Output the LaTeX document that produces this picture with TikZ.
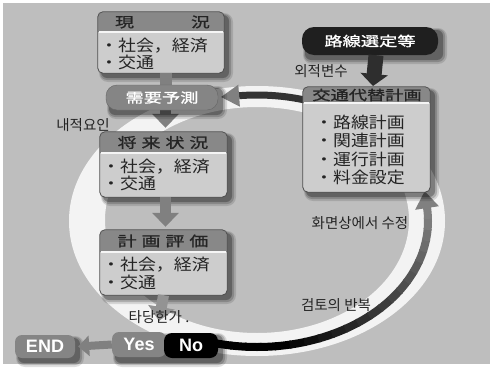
\documentclass[tikz,border=0pt]{standalone}
\usepackage{fontspec}
\setmainfont{Liberation Sans}
\newfontfamily\jpbody[FakeStretch=1.12]{Noto Sans CJK JP}
\newfontfamily\jphead[FakeStretch=1.35,FakeBold=1.2]{Noto Sans CJK JP}
\newfontfamily\krfont{Noto Sans CJK KR}
\usetikzlibrary{arrows.meta,fit,calc}
\definecolor{bg}{HTML}{BEBEBE}
\definecolor{hdr}{HTML}{888888}
\definecolor{bodyc}{HTML}{CDCDCD}
\definecolor{edge}{HTML}{505050}
\definecolor{pillc}{HTML}{858585}
\definecolor{ink}{HTML}{242424}
\definecolor{stripe}{HTML}{333333}
\definecolor{arrowg}{HTML}{808080}
\definecolor{ringc}{HTML}{F3F3F3}
\newcommand\softshadow[4]{%
  \fill[black,opacity=.12,rounded corners=9pt] (#1+1,#2+1) rectangle (#3+9,#4+9);
  \fill[black,opacity=.18,rounded corners=7pt] (#1+2,#2+2) rectangle (#3+7,#4+7);
  \fill[black,opacity=.28,rounded corners=6pt] (#1+3,#2+3) rectangle (#3+5,#4+5);}
\newcommand\planbox[6]{% name, x1, y1, x2, y2, header bottom
  \softshadow{#2}{#3}{#4}{#5}
  \node[fit={(#2,#3) (#4,#5)}, inner sep=0pt, fill=bodyc, rounded corners=5pt] (#1) {};
  \begin{scope}
    \clip[rounded corners=5pt] (#2,#3) rectangle (#4,#5);
    \fill[hdr] (#2,#3) rectangle (#4,#6);
  \end{scope}
  \draw[white!80!bodyc, line width=1.4pt] (#2+1,#6) -- (#4-1,#6);
  \draw[edge, line width=0.8pt, rounded corners=5pt] (#1.north west) rectangle (#1.south east);}
\begin{document}
\begin{tikzpicture}[x=1pt,y=-1pt,
  hdrtxt/.style={inner sep=0pt, text=ink, font=\jphead\fontsize{14}{14}\selectfont},
  bodytxt/.style={inner sep=0pt, anchor=west, text=ink, font=\jpbody\fontsize{16}{16}\selectfont},
  krlab/.style={inner sep=0pt, text=ink, font=\krfont\fontsize{14.5}{15}\selectfont},
  pilltxt/.style={inner sep=0pt, text=white, font=\jphead\fontsize{13.5}{13.5}\selectfont},
  engtxt/.style={inner sep=0pt, text=white, font=\bfseries\fontsize{18}{18}\selectfont},
  flow/.style={draw=arrowg, line width=11pt, -{Triangle[width=26pt,length=14pt]}},
  flowshaft/.style={draw=arrowg, line width=12pt},
  darkflow/.style={draw=black!82, line width=15pt, -{Triangle[width=27pt,length=12pt]}},
  smallflow/.style={draw=arrowg, line width=8pt, -{Triangle[width=20pt,length=11pt]}}]
\useasboundingbox (0,0) rectangle (490,372);
\fill[bg] (3,3) rectangle (490,364);
% review loop (white ring)
\fill[ringc, even odd rule] (257,221) ellipse [x radius=188, y radius=135]
                            (257,220) ellipse [x radius=152, y radius=113];
% stripe: No -> bottom -> right side
\foreach \i in {0,...,21}{
  \pgfmathsetmacro\ta{104-5*\i}
  \pgfmathsetmacro\tb{\ta-5.6}
  \pgfmathtruncatemacro\pc{min(100,max(0,(\i-4)*6))}
  \draw[line width=8pt, color=arrowg!\pc!black] plot[domain=\tb:\ta, samples=8] ({257+171*cos(\x)},{221+126*sin(\x)});
}
\fill[arrowg] (415.1,209.8) -- (424.7,191.2) -- (438.9,206.2) -- cycle;
% stripe: plan box -> demand forecast
\draw[line width=7pt, stripe] plot[domain=-96:-74, samples=20] ({257+171*cos(\x)},{221+126*sin(\x)});
\fill[arrowg] (238.3,84.7) -- (221.1,97.0) -- (239.9,106.7) -- cycle;

% boxes
\planbox{gen}{98}{12}{224}{73}{32}
\planbox{fut}{100}{132}{227}{197}{153}
\planbox{eval}{100}{230}{227}{295}{252}
\planbox{alt}{303}{87}{430}{192}{103}

% flow arrows
\draw[flowshaft] ([xshift=5pt]gen.south) -- ([xshift=5pt,yshift=-14pt]gen.south);
\draw[flow, shorten >=4pt] ([xshift=2pt]fut.north |- 0,110) -- ([xshift=2pt]fut.north);
\draw[flow, shorten >=3pt] ([xshift=2pt]fut.south) -- ([xshift=2pt]eval.north);

% pills
\softshadow{106}{85}{218}{110}
\node[fit={(106,85) (218,110)}, inner sep=0pt, fill=pillc, draw=black!60, rounded corners=11pt] (dem) {};
\node[pilltxt] (demt) at (dem.center) {需要予測};
\softshadow{302}{27}{438}{55}
\node[fit={(302,27) (438,55)}, inner sep=0pt, fill=black!88, rounded corners=12pt] (route) {};
\node[pilltxt] (routet) at (route.center) {路線選定等};
\draw[darkflow] ([xshift=0pt]route.south -| 376,0) -- (373,86);

% texts in boxes
\node[hdrtxt] (genh) at (162.5,22) {現\hspace{57pt}況};
\node[bodytxt] (gen1) at (100,46) {・社会，経済};
\node[bodytxt] (gen2) at (100,62) {・交通};
\node[hdrtxt] (futh) at (163,142.5) {将\hspace{5pt}来\hspace{5pt}状\hspace{5pt}況};
\node[bodytxt] (fut1) at (102,167) {・社会，経済};
\node[bodytxt] (fut2) at (102,183) {・交通};
\node[hdrtxt] (evalh) at (163,241) {計\hspace{5pt}画\hspace{5pt}評\hspace{5pt}価};
\node[bodytxt] (eval1) at (102,265) {・社会，経済};
\node[bodytxt] (eval2) at (102,282) {・交通};
\node[hdrtxt, font=\jphead\fontsize{13.5}{13.5}\selectfont] (alth) at (367,95) {交通代替計画};
\node[bodytxt] (alt1) at (315,122) {・路線計画};
\node[bodytxt] (alt2) at (315,140) {・関連計画};
\node[bodytxt] (alt3) at (315,159) {・運行計画};
\node[bodytxt] (alt4) at (315,177) {・料金設定};

% Korean labels
\node[krlab] (ext) at (321,71) {외적변수};
\node[krlab] (intl) at (83,125) {내적요인};
\node[krlab] (fix) at (360,223) {화면상에서 수정};
\node[krlab] (rep) at (336,305) {검토의 반복};
\coordinate (validc) at (159,317);
\draw[flow, draw=arrowg!85!white] (eval.south) -- ([yshift=-4pt]validc);
\node[krlab] (valid) at (validc) {타당한가 .};

% END / Yes / No
\softshadow{15}{335}{75}{358}
\node[fit={(15,335) (75,358)}, inner sep=0pt, fill=pillc, rounded corners=7pt] (endp) {};
\node[engtxt] (endt) at (endp.center) {END};
\softshadow{112}{332}{218}{358}
\node[fit={(112,332) (166,357)}, inner sep=0pt, fill=pillc, rounded corners=7pt] (yes) {};
\node[fit={(164,333) (218,358)}, inner sep=0pt, fill=black, rounded corners=8pt] (no) {};
\node[engtxt] (yest) at (yes.center) {Yes};
\node[engtxt] (not) at (no.center) {No};
\draw[smallflow] (yes.west) -- ([xshift=3pt]endp.east);
\end{tikzpicture}
\end{document}
